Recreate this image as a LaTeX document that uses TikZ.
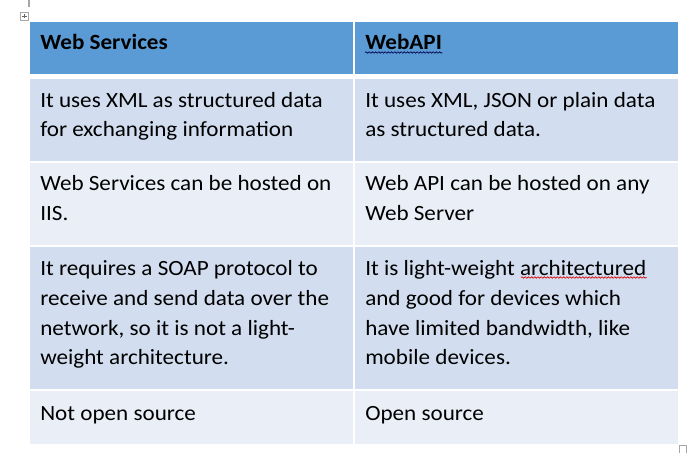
\documentclass[tikz,border=0pt]{standalone}
\usepackage{fontspec}
\setmainfont{Carlito}[FakeStretch=1.064]
\usetikzlibrary{decorations.pathmorphing}
\definecolor{hdr}{HTML}{5B9BD5}
\definecolor{darkrow}{HTML}{D2DEEF}
\definecolor{lightrow}{HTML}{EAEFF7}
\definecolor{handle}{HTML}{A6A6A6}
\begin{document}
\begin{tikzpicture}[x=0.75pt,y=-0.75pt,
  txt/.style={anchor=base west, inner sep=0pt, font=\fontsize{16.3}{20}\selectfont},
  hd/.style={anchor=base west, inner sep=0pt, font=\fontsize{16.3}{20}\selectfont\bfseries},
  squig/.style={decorate, decoration={snake, amplitude=0.55pt, segment length=2.4pt}, line width=0.5pt}]
\useasboundingbox (0,0) rectangle (700,453);
\fill[white] (0,0) rectangle (700,453);
% cells
\fill[hdr] (30,22) rectangle (353,74);
\fill[hdr] (355,22) rectangle (678,74);
\fill[darkrow] (30,79) rectangle (353,161);
\fill[darkrow] (355,79) rectangle (678,161);
\fill[lightrow] (30,163) rectangle (353,245);
\fill[lightrow] (355,163) rectangle (678,245);
\fill[darkrow] (30,247) rectangle (353,389);
\fill[darkrow] (355,247) rectangle (678,389);
\fill[lightrow] (30,391) rectangle (353,444);
\fill[lightrow] (355,391) rectangle (678,444);
% header
\node[hd] (h1) at (40,50) {Web Services};
\node[hd] (h2) at (365,50) {WebAPI};
% row 1
\node[txt] (a1) at (40,107.3) {It uses XML as structured data};
\node[txt] (a2) at (40,136.8) {for exchanging information};
\node[txt] (b1) at (365,107.3) {It uses XML, JSON or plain data};
\node[txt] (b2) at (365,136.8) {as structured data.};
% row 2
\node[txt] (c1) at (40,190.8) {Web Services can be hosted on};
\node[txt] (c2) at (40,220.3) {IIS.};
\node[txt] (d1) at (365,190.8) {Web API can be hosted on any};
\node[txt] (d2) at (365,220.3) {Web Server};
% row 3
\node[txt] (e1) at (40,275.5) {It requires a SOAP protocol to};
\node[txt] (e2) at (40,305.3) {receive and send data over the};
\node[txt] (e3) at (40,335) {network, so it is not a light-};
\node[txt] (e4) at (40,364.8) {weight architecture.};
\node[txt] (f1) at (365,275.5) {It is light-weight architectured};
\node[txt] (f2) at (365,305.3) {and good for devices which};
\node[txt] (f3) at (365,335) {have limited bandwidth, like};
\node[txt] (f4) at (365,364.8) {mobile devices.};
% row 4
\node[txt] (g1) at (40,420) {Not open source};
\node[txt] (k1) at (365,420) {Open source};
% squiggly underlines
\draw[squig, draw=black!70!blue] (h2.base west) ++(0,2.5) -- (h2.base east |- 0,52.5);
\draw[squig, draw=red!85!black] (521,277.5) -- (f1.base east |- 0,277.5);
% Word handles
\draw[handle, line width=1.5pt] (29,0) -- (29,7);
\draw[handle, line width=0.6pt, fill=white] (20.5,12.5) rectangle (28,20);
\draw[black!60, line width=0.4pt] (22,16.25) -- (26.5,16.25) (24.25,14) -- (24.25,18.5);
\draw[handle, line width=0.6pt] (679.5,453) -- (679.5,445.5) -- (686,445.5) -- (686,453);
\end{tikzpicture}
\end{document}
